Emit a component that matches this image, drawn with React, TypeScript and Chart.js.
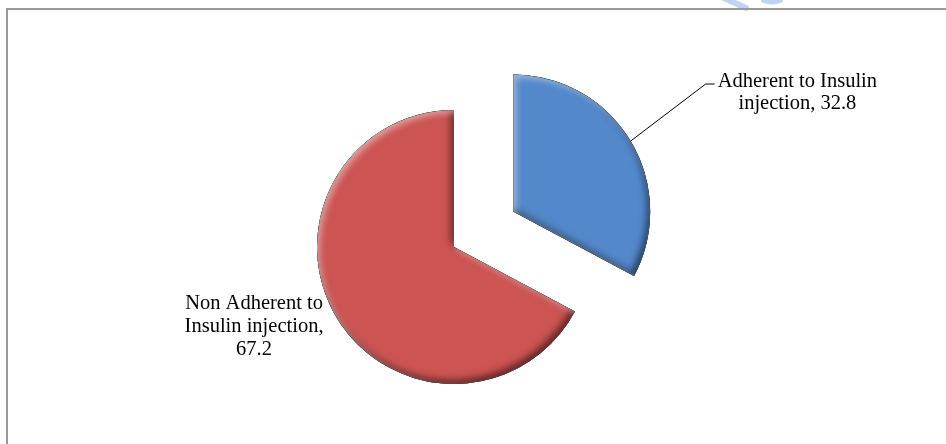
import React, { useEffect, useRef } from "react";
import { Chart, registerables } from "chart.js";

Chart.register(...registerables);

const categories = ["Adherent to Insulin injection", "Non Adherent to Insulin injection"];
const values = [32.8, 67.2];
const labelLines = [
  ["Adherent to Insulin", "injection, 32.8"],
  ["Non Adherent to", "Insulin injection,", "67.2"],
];
const sliceColors = ["#5388CB", "#CC5452"];
const explodeDistance = [69, 0];

const FONT = '20.5px "Liberation Serif", "Times New Roman", serif';
const LINE_H = 23;

const explodePlugin = {
  id: "explode",
  afterDatasetsUpdate(chart: any) {
    const meta = chart.getDatasetMeta(0);
    meta.data.forEach((arc: any, i: number) => {
      const d = explodeDistance[i] || 0;
      if (!d) return;
      const mid = (arc.startAngle + arc.endAngle) / 2;
      arc.x += Math.cos(mid) * d;
      arc.y += Math.sin(mid) * d;
    });
  },
};

const framePlugin = {
  id: "frame",
  beforeDraw(chart: any) {
    const ctx = chart.ctx;
    ctx.save();
    ctx.fillStyle = "#ffffff";
    ctx.fillRect(0, 0, chart.width, chart.height);
    // faint watermark fragment
    ctx.strokeStyle = "rgba(170,198,240,0.75)";
    ctx.lineWidth = 6;
    ctx.lineCap = "round";
    ctx.beginPath();
    ctx.moveTo(724, -2);
    ctx.lineTo(746, 8);
    ctx.stroke();
    ctx.beginPath();
    ctx.moveTo(764, 0);
    ctx.quadraticCurveTo(772, 3, 780, 0);
    ctx.stroke();
    // frame
    ctx.strokeStyle = "#9a9a9a";
    ctx.lineWidth = 2;
    ctx.strokeRect(7, 9, 3000, 3000);
    ctx.restore();
  },
};

const bevelPlugin = {
  id: "bevel",
  afterDatasetsDraw(chart: any) {
    const ctx = chart.ctx;
    const meta = chart.getDatasetMeta(0);
    meta.data.forEach((arc: any) => {
      const { x, y, startAngle, endAngle, outerRadius } = arc;
      const path = new Path2D();
      path.moveTo(x, y);
      path.arc(x, y, outerRadius, startAngle, endAngle);
      path.closePath();
      const outer = new Path2D();
      outer.rect(x - 3000, y - 3000, 6000, 6000);
      outer.addPath(path);
      ctx.save();
      ctx.clip(path);
      ctx.fillStyle = "#000";
      ctx.shadowColor = "rgba(0,0,0,0.55)";
      ctx.shadowBlur = 7;
      ctx.shadowOffsetX = -3;
      ctx.shadowOffsetY = -4;
      ctx.fill(outer, "evenodd");
      ctx.shadowColor = "rgba(255,255,255,0.45)";
      ctx.shadowBlur = 6;
      ctx.shadowOffsetX = 3;
      ctx.shadowOffsetY = 3;
      ctx.fill(outer, "evenodd");
      ctx.restore();
    });
  },
};

const labelPlugin = {
  id: "sliceLabels",
  afterDraw(chart: any) {
    const ctx = chart.ctx;
    const meta = chart.getDatasetMeta(0);
    ctx.save();
    ctx.font = FONT;
    ctx.fillStyle = "#000";
    ctx.textBaseline = "alphabetic";
    ctx.textAlign = "center";
    meta.data.forEach((arc: any, i: number) => {
      const mid = (arc.startAngle + arc.endAngle) / 2;
      const ax = arc.x + Math.cos(mid) * arc.outerRadius;
      const ay = arc.y + Math.sin(mid) * arc.outerRadius;
      const lines = labelLines[i];
      const maxW = Math.max(...lines.map((l) => ctx.measureText(l).width));
      if (Math.cos(mid) >= 0) {
        // leader line to the right
        const ex = ax + 75;
        const ey = ay - 57;
        ctx.strokeStyle = "#000";
        ctx.lineWidth = 1;
        ctx.beginPath();
        ctx.moveTo(ax, ay);
        ctx.lineTo(ex, ey);
        ctx.lineTo(ex + 9, ey);
        ctx.stroke();
        const cx = ex + 12 + maxW / 2;
        lines.forEach((l, k) => ctx.fillText(l, cx, ey + 3 + k * 22));
      } else {
        const cx = ax - 13 - maxW / 2;
        const midBase = ay + 15;
        const first = midBase - ((lines.length - 1) / 2) * LINE_H;
        lines.forEach((l, k) => ctx.fillText(l, cx, first + k * LINE_H));
      }
    });
    ctx.restore();
  },
};

export default function App() {
  const ref = useRef<HTMLCanvasElement | null>(null);
  useEffect(() => {
    if (!ref.current) return;
    const chart = new Chart(ref.current, {
      type: "pie",
      data: {
        labels: categories,
        datasets: [
          {
            data: values,
            backgroundColor: sliceColors,
            borderWidth: 0,
            hoverOffset: 0,
          },
        ],
      },
      options: {
        responsive: false,
        animation: false,
        events: [],
        radius: 137,
        layout: { padding: { left: 100, right: 138, top: 60, bottom: 10 } },
        plugins: {
          legend: { display: false },
          tooltip: { enabled: false },
        },
      } as any,
      plugins: [framePlugin, explodePlugin, bevelPlugin, labelPlugin],
    });
    return () => chart.destroy();
  }, []);
  return (
    <div style={{ position: "fixed", left: 0, top: 0, width: 946, height: 444, background: "#fff" }}>
      <canvas ref={ref} width={946} height={444} />
    </div>
  );
}
